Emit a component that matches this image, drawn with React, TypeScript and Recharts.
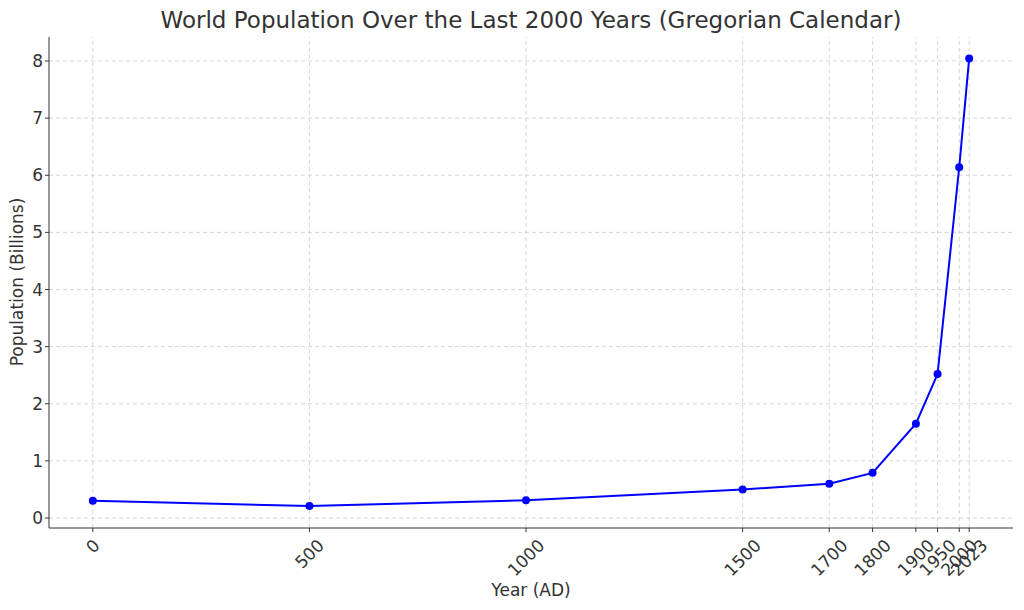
import { LineChart, Line, XAxis, YAxis, ReferenceLine } from "recharts";

const years = [0, 500, 1000, 1500, 1700, 1800, 1900, 1950, 2000, 2023];
const population = [0.3, 0.21, 0.31, 0.5, 0.6, 0.79, 1.65, 2.52, 6.14, 8.045];
const yTicks = [0, 1, 2, 3, 4, 5, 6, 7, 8];

const data = years.map((year, i) => ({ year, population: population[i] }));

const FONT = "'DejaVu Sans', sans-serif";
const TEXT = "#333333";
const TICK_SIZE = 17;
const GRID = "#cccccc";

// matplotlib-style rotated label: centred under the tick, rotated 45deg
function RotatedTick(props: any) {
  const { x, y, payload } = props;
  const label = String(payload.value);
  const w = label.length * TICK_SIZE * 0.636;
  const h = TICK_SIZE * 0.9;
  const half = ((w + h) * 0.7071) / 2;
  const cy = y + 3 + half;
  return (
    <text
      x={x}
      y={cy}
      transform={`rotate(-45, ${x}, ${cy})`}
      textAnchor="middle"
      dominantBaseline="central"
      fontSize={TICK_SIZE}
      fontFamily={FONT}
      fill={TEXT}
    >
      {label}
    </text>
  );
}

export default function App() {
  return (
    <div style={{ position: "absolute", left: 0, top: 0, width: 1024, height: 610, background: "#fff" }}>
      <LineChart
        width={1024}
        height={610}
        data={data}
        margin={{ top: 37, right: 11, left: 0, bottom: 0 }}
      >
        <XAxis
          dataKey="year"
          type="number"
          domain={[-101.15, 2124.15]}
          allowDataOverflow
          ticks={years}
          interval={0}
          height={82}
          stroke="#333"
          tickSize={4}
          tick={<RotatedTick />}
        />
        <YAxis
          type="number"
          domain={[-0.175, 8.42]}
          allowDataOverflow
          ticks={yTicks}
          interval={0}
          width={49}
          stroke="#333"
          tickSize={4}
          tick={{ fontSize: TICK_SIZE, fontFamily: FONT, fill: TEXT }}
        />
        {/* grid drawn as reference lines so only tick positions get a line */}
        {years.map((yr) => (
          <ReferenceLine key={`vx${yr}`} x={yr} stroke={GRID} strokeDasharray="4 3" strokeWidth={0.8} />
        ))}
        {yTicks.map((v) => (
          <ReferenceLine key={`hy${v}`} y={v} stroke={GRID} strokeDasharray="4 3" strokeWidth={0.8} />
        ))}
        <Line
          type="linear"
          dataKey="population"
          stroke="#0000ff"
          strokeWidth={2}
          dot={{ r: 4, fill: "#0000ff", stroke: "#0000ff", strokeWidth: 0 }}
          isAnimationActive={false}
        />
      </LineChart>
      <svg
        width={1024}
        height={610}
        style={{ position: "absolute", left: 0, top: 0, pointerEvents: "none" }}
      >
        <text
          x={531}
          y={20}
          textAnchor="middle"
          dominantBaseline="central"
          fontSize={23}
          fontFamily={FONT}
          fill={TEXT}
        >
          World Population Over the Last 2000 Years (Gregorian Calendar)
        </text>
        <text
          x={531}
          y={590}
          textAnchor="middle"
          dominantBaseline="central"
          fontSize={TICK_SIZE}
          fontFamily={FONT}
          fill={TEXT}
        >
          Year (AD)
        </text>
        <text
          x={17}
          y={282}
          textAnchor="middle"
          dominantBaseline="central"
          transform="rotate(-90, 17, 282)"
          fontSize={TICK_SIZE}
          fontFamily={FONT}
          fill={TEXT}
        >
          Population (Billions)
        </text>
      </svg>
    </div>
  );
}
